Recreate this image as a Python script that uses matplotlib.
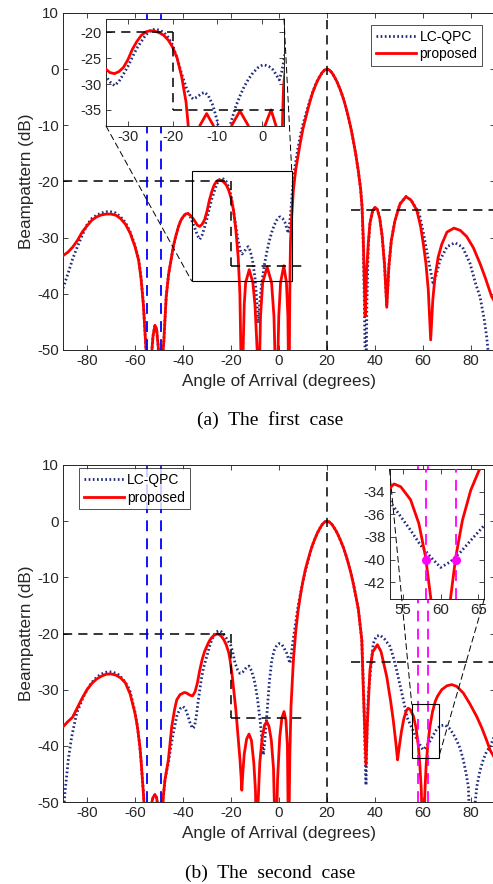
import matplotlib
matplotlib.use("Agg")
import matplotlib.pyplot as plt
from matplotlib.patches import Rectangle, ConnectionPatch

plt.rcParams["font.family"] = ["Liberation Sans", "DejaVu Sans"]
plt.rcParams["axes.unicode_minus"] = False

# ---- data ----
# (a) first case
a_red_x = [-90, -88, -86, -84, -82, -80, -78, -76, -74, -72, -70, -68, -66, -64, -62, -60,
           -58.5, -57.5, -56.5, -55.8, -55, -54.2, -53.3, -52.5, -51.7, -51, -50.3, -49.5,
           -48.7, -48, -47, -46, -45, -44, -43, -42, -41, -40, -39, -38, -37, -36, -35,
           -34, -33, -32, -31, -30, -29, -28, -27, -26, -25, -24, -23, -22, -21, -20, -19,
           -18, -17, -16.3, -15.5, -14.5, -13.9, -12.4, -10.9, -10, -9.1, -8.6, -7.7, -6.8,
           -4.95, -3.1, -2.1, -1.0, -0.1, 0.65, 2.0, 3.1, 3.7, 4.2, 4.4, 4.6, 4.8, 5.3, 6,
           7, 8, 9, 10, 11, 12, 13, 14, 15, 16, 17, 18, 19, 20, 21, 22, 23, 24, 25, 26, 27,
           28, 29, 30, 31, 32, 33, 34, 34.6, 35.1, 35.5, 35.9, 36.5, 37.2, 37.9, 39, 40, 41,
           42, 43, 44, 44.9, 45.8, 46.8, 48.3, 50.4, 52.9, 55, 57.4, 59, 60.1, 61.2, 62.2,
           63.2, 64.1, 65, 66.3, 67.8, 70, 72.9, 75.5, 78.2, 81, 83.75, 86, 88.6, 90]
a_red_y = [-33.2, -32.6, -31.7, -30.5, -29.0, -27.9, -26.9, -26.3, -25.95, -25.8, -25.8, -26.0,
           -26.6, -27.6, -29.2, -31.6, -34.0, -37.2, -42.0, -47.0, -53, -58, -52, -47.5,
           -45.6, -46.3, -49.5, -58, -52, -48.5, -40.5, -36.5, -34.0, -31.5, -29.7, -28.2,
           -27.0, -26.3, -25.8, -25.7, -26.0, -26.5, -27.1, -27.8, -28.0, -27.6, -26.8,
           -25.3, -23.3, -21.8, -20.6, -19.95, -19.7, -19.8, -20.1, -20.6, -21.5, -22.9,
           -25.0, -28.5, -33.5, -40, -60, -42, -38, -35.7, -38, -42, -50, -62, -44, -38,
           -35.2, -38, -44, -62, -44, -38, -35.0, -38, -44, -62, -45, -36, -30.5, -26,
           -21.5, -17.8, -15.3, -12.8, -10.6, -8.9, -7.2, -5.6, -4.2, -3.1, -2.1, -1.3,
           -0.6, -0.15, 0, -0.15, -0.6, -1.3, -2.1, -3.1, -4.2, -5.5, -7.0, -8.7, -10.6,
           -12.8, -15.2, -18.0, -21.3, -24.5, -30, -37, -44, -36, -31, -27.4, -25.2, -24.6,
           -25.0, -26.6, -29.8, -35, -42.4, -35, -30.5, -27, -24, -22.7, -23.3, -25.1, -28,
           -31, -34.5, -39.3, -48.2, -41, -37, -33.5, -31.2, -29.0, -28.3, -28.7, -29.8,
           -31.8, -34.6, -37.2, -40.5, -41.5]

a_blue_x = [-90, -88, -86, -84, -82, -80, -78, -76, -74, -72, -70, -68, -66, -64, -62, -60,
            -58.5, -57.5, -56.5, -55.8, -55, -54.2, -53.3, -52.5, -51.7, -51, -50.3, -49.5,
            -48.7, -48, -47, -46, -45, -44, -43, -42, -41, -40, -39, -38, -37, -36, -35,
            -34, -33, -32, -31, -30, -29, -28, -27, -26, -25, -24, -23, -22, -21, -20, -19,
            -18, -17, -16, -15.4, -14.5, -13.5, -12.8, -12, -11, -10, -9.3, -8.6, -7.9,
            -7.2, -6, -5, -4, -3, -2, -1, 0, 0.5, 1.5, 2.5, 3.2, 3.85, 4.4, 4.9, 5.5, 6.5,
            8, 9, 10, 11, 12, 13, 14, 15, 16, 17, 18, 19, 20, 21, 22, 23, 24, 25, 26, 27,
            28, 29, 30, 31, 32, 33, 34, 34.6, 35.1, 35.5, 35.9, 36.2, 36.6, 37.2, 37.9, 39,
            40, 41, 42, 43, 44, 44.9, 45.8, 46.8, 48.3, 50.4, 52.9, 55, 57.4, 58.75, 60,
            61.5, 63, 64.3, 65.5, 67.1, 70, 73.3, 76.5, 79.6, 82, 83.75, 85.5, 86.5, 87.6,
            88.5, 89.3, 90]
a_blue_y = [-39.0, -36.5, -33.8, -31.6, -29.6, -27.7, -26.6, -26.0, -25.6, -25.4, -25.4,
            -25.6, -26.3, -27.3, -29.0, -31.4, -33.8, -37.0, -41.8, -47.0, -53, -58, -52,
            -47.5, -45.6, -46.3, -49.5, -58, -52, -48.5, -40.5, -36.5, -34.0, -31.5, -29.7,
            -28.2, -27.0, -26.3, -25.8, -25.7, -26.3, -27.3, -28.4, -29.6, -30.3, -29.5,
            -28.1, -26.6, -24.8, -23.1, -21.8, -20.5, -19.8, -19.4, -19.6, -20.0, -21.0,
            -22.5, -25.0, -28.0, -30.6, -32.4, -32.9, -32.5, -31.8, -31.6, -32.3, -34.1,
            -37.2, -41, -45.2, -41, -38.1, -34.6, -32.4, -30.5, -29.0, -27.8, -26.9, -26.4,
            -26.3, -26.6, -27.3, -28.3, -29.2, -27.6, -25.4, -22, -17.8, -13.8, -11.6, -9.8,
            -8.3, -6.8, -5.4, -4.1, -3.0, -2.0, -1.2, -0.6, -0.15, 0, -0.15, -0.6, -1.3,
            -2.1, -3.1, -4.2, -5.5, -7.0, -8.7, -10.6, -12.8, -15.2, -18.0, -21.3, -24.5,
            -31, -40, -52, -60, -42, -31.5, -27.6, -25.3, -24.6, -25.0, -26.6, -29.8, -35,
            -42, -35, -30.5, -27, -24, -22.7, -23.3, -25.0, -26.3, -28.8, -32.2, -35.6,
            -38.4, -36.6, -34.0, -31.6, -30.9, -31.7, -34.6, -38.3, -40.5, -44.5, -47.6,
            -52, -60, -62, -58]

# (b) second case
b_red_x = [-90, -88, -86, -84, -82, -80, -78, -76, -74, -72, -70, -68, -66, -64, -62, -60,
           -59, -58, -57.5, -56.5, -55.8, -55.2, -54.5, -53.5, -52.5, -51.7, -51, -50.3,
           -49.6, -48.9, -48.2, -47.5, -46.1, -44.7, -43.5, -42.6, -41.25, -39.5, -38.5,
           -37, -36, -35, -34, -33, -32, -31, -30, -29, -28, -27, -26, -25, -24, -23, -22,
           -21, -20.4, -19.5, -19, -18, -17.4, -16.25, -15.8, -15.5, -15.1, -14.5, -13.5,
           -12.5, -11.5, -10.5, -9.8, -9.3, -8.7, -8, -7, -6, -5.1, -4.2, -3.2, -2.3, -1.4,
           -0.6, 0.3, 1.2, 2.1, 2.9, 3.5, 4.0, 4.5, 5, 6, 7, 8, 9, 10, 11, 12, 13, 14, 15,
           16, 17, 18, 19, 20, 21, 22, 23, 24, 25, 26, 27, 28, 29, 30, 31, 32, 33.1, 34.5,
           35.1, 35.7, 36.25, 36.8, 37.9, 39, 41, 42.5, 44.9, 46.5, 47.6, 48.7, 49.4, 50,
           51, 52, 53, 53.8, 54.7, 56, 57.1, 58, 58.7, 59.3, 60.1, 60.8, 61.3, 62.0, 62.9,
           64.0, 65.1, 66, 67.8, 70, 72, 74, 76.8, 79.5, 82.4, 84.5, 86.5, 88, 90]
b_red_y = [-36.6, -35.7, -34.9, -33.2, -31.5, -30.0, -28.9, -28.1, -27.6, -27.25, -27.2,
           -27.4, -27.9, -28.8, -30.8, -34.2, -36.6, -40, -42.5, -48.4, -54, -62, -56, -51,
           -49.2, -48.7, -49.2, -51.5, -60, -54, -49, -46, -42.5, -36.6, -33.5, -31.8,
           -30.9, -30.5, -30.6, -31.0, -31.1, -30.4, -28.8, -26.5, -24.6, -23.2, -22.2,
           -21.3, -20.7, -20.3, -20.1, -20.15, -20.5, -21.1, -22.0, -23.3, -24.7, -27.5,
           -29.5, -33.5, -36.6, -42.5, -45.5, -47.9, -45, -41.5, -38.8, -37.9, -39, -43,
           -48, -60, -50, -43, -38.5, -36.3, -35.7, -36.5, -39, -44, -60, -46, -38.5, -35,
           -33.9, -35.5, -40, -60, -42, -33, -24.7, -19.5, -15.8, -13.0, -10.6, -8.6, -7.0,
           -5.5, -4.2, -3.1, -2.1, -1.3, -0.6, -0.15, 0, -0.15, -0.55, -1.2, -1.9, -2.8,
           -3.8, -4.9, -6.2, -7.7, -9.3, -11.2, -13.3, -15.8, -21.2, -29.5, -37, -43.4,
           -36, -26.5, -23.3, -22.0, -23.2, -27.7, -32, -35.4, -39.5, -42.5, -40.5, -37.5,
           -35.2, -33.8, -33.3, -33.55, -34.7, -36.8, -39.8, -43.5, -48, -62, -48, -43.5,
           -39.8, -36.5, -33.85, -32.1, -31.2, -30.0, -29.3, -29.1, -29.4, -30.6, -32.5,
           -34.8, -36.8, -39, -40.8, -42.3]

b_blue_x = [-90, -89.2, -87.8, -86.4, -84.3, -81.5, -79, -77, -75, -73, -71, -69, -67, -65,
            -63, -62, -60, -59, -58, -57.5, -56.5, -55.8, -55.2, -54.5, -53.5, -52.5, -51.7,
            -51, -50.3, -49.6, -48.9, -48.2, -47.5, -46, -45, -44, -42.5, -41, -40, -39, -38,
            -37, -36, -35.2, -34.4, -33.6, -32.5, -31.5, -30.1, -29, -28, -27, -26, -25, -24,
            -23, -22, -21, -20, -19.3, -18.3, -17.2, -16.25, -15, -13.5, -12.5, -11.5, -10.5,
            -10, -9, -7.9, -7, -6.5, -6, -4.9, -4, -3, -2, -1, 0, 1.1, 2, 3.2, 4.0, 4.6, 5.2,
            6, 6.7, 8, 9.5, 11, 12, 13, 14, 15, 16, 17, 18, 19, 20, 21, 22, 23, 24, 25, 26,
            27, 28, 29, 30, 31, 32, 33.1, 34.5, 35.3, 35.9, 36.25, 36.7, 37.2, 37.9, 38.6,
            39.3, 40.5, 42.1, 44, 46.25, 47.5, 49, 50.5, 51.8, 53.4, 54.7, 56, 57.3, 58.7,
            60, 61.3, 62.7, 64, 65.75, 67.5, 69.2, 71, 72.5, 74, 75.5, 76.8, 78, 78.9, 79.3,
            80.3, 81.3, 82.4, 83.7, 85.1, 86.5, 87.9, 89, 90]
b_blue_y = [-53, -48.4, -42.5, -38.4, -34.2, -31.25, -29.3, -28.2, -27.5, -27.0, -26.8,
            -26.9, -27.3, -28.1, -29.4, -30.4, -34.0, -36.5, -40, -42.5, -48.4, -54, -62,
            -56, -51, -49.2, -48.7, -49.2, -51.5, -60, -54, -49, -46, -42.8, -40, -37.7,
            -34.5, -33.3, -33.0, -33.4, -34.6, -36.0, -36.9, -36.6, -34.5, -31.8, -28.5,
            -26.2, -24.1, -22.4, -21.1, -20.2, -19.7, -19.5, -19.7, -20.2, -20.8, -21.5,
            -22.2, -23.3, -25.3, -26.5, -27.1, -26.8, -26.0, -25.8, -26.6, -28.0, -28.9,
            -31.5, -35.4, -39.5, -41.6, -39.5, -33.6, -28.5, -24.7, -23.0, -22.2, -21.8,
            -21.9, -22.5, -23.5, -24.6, -25.3, -23.5, -20.8, -18.8, -15.0, -11.7, -8.8,
            -7.2, -5.6, -4.2, -3.1, -2.1, -1.3, -0.6, -0.15, 0, -0.15, -0.55, -1.2, -1.9,
            -2.8, -3.8, -4.9, -6.2, -7.7, -9.3, -11.2, -13.3, -15.8, -21.2, -31, -42, -47,
            -37, -31, -27.7, -24.5, -21.75, -20.5, -20.3, -21.0, -22.3, -24.0, -26.5,
            -29.3, -31.8, -35.0, -36.2, -37.4, -38.7, -39.8, -40.7, -40.2, -39.3, -38.3,
            -37.0, -36.4, -36.3, -36.9, -37.8, -39.0, -40.5, -42.5, -45, -47.3, -52, -62,
            -52, -47.3, -44.5, -42.5, -41, -40.2, -39, -38]

# constraint masks (x-range, level) and marked angles
mask_x = [[-90, -20], [-20, -20], [-20, 10], [30, 90]]
mask_y = [[-20, -20], [-20, -35], [-35, -35], [-25, -25]]
target_angle = 20
jammer_angles = [-55, -49]
b_marks_x = [58, 62]
b_marks_y = [-40, -40]

labels = ["LC-QPC", "proposed"]

W, H = 493, 884
fig = plt.figure(figsize=(W / 100, H / 100), dpi=100)


def add_px_axes(l, t, r, b):
    return fig.add_axes([l / W, 1 - b / H, (r - l) / W, (b - t) / H])


GRAY = "#262626"
BLUE_DOT = "#1f2a7a"
TICKFS = 10.8


def style(ax, fs=TICKFS):
    ax.tick_params(direction="in", top=True, right=True, length=3.5, width=0.6,
                   labelsize=fs, colors=GRAY, pad=3)
    for s in ax.spines.values():
        s.set_color(GRAY)
        s.set_linewidth(0.7)


def draw_curves(ax, bx, by, rx, ry, marks=False):
    ax.plot(bx, by, ls=(0, (0.6, 0.9)), color=BLUE_DOT, lw=2.0, zorder=2,
            dash_capstyle="butt", label=labels[0])
    ax.plot(rx, ry, color="red", lw=2.0, zorder=3, label=labels[1])
    for xs, ys in zip(mask_x, mask_y):
        ax.plot(xs, ys, color="black", lw=1.1, ls=(0, (6, 4)), zorder=4)
    ax.axvline(target_angle, color="black", lw=1.1, ls=(0, (6, 4)), zorder=4)
    for j in jammer_angles:
        ax.axvline(j, color="blue", lw=1.3, ls=(0, (6, 4)), zorder=4)
    if marks:
        for m in b_marks_x:
            ax.axvline(m, color="magenta", lw=1.3, ls=(0, (6, 4)), zorder=4)


def main_axes(t, b, bx, by, rx, ry, marks=False):
    ax = add_px_axes(63, t, 495, b)
    draw_curves(ax, bx, by, rx, ry, marks)
    ax.set_xlim(-90, 90)
    ax.set_ylim(-50, 10)
    ax.set_xticks(range(-80, 81, 20))
    ax.set_yticks(range(-50, 11, 10))
    style(ax)
    ax.set_xlabel("Angle of Arrival (degrees)", fontsize=12.3, color=GRAY, labelpad=4)
    ax.set_ylabel("Beampattern (dB)", fontsize=12.3, color=GRAY, labelpad=2)
    return ax


# ---- (a) ----
ax1 = main_axes(13, 350, a_blue_x, a_blue_y, a_red_x, a_red_y)
ax1.add_patch(Rectangle((-36.4, -37.7), 41.7, 19.6, fill=False, ec="black", lw=0.8, zorder=5))
leg = ax1.legend(loc="upper right", bbox_to_anchor=(482.3 / W, 1 - 25 / H),
                 bbox_transform=fig.transFigure, fontsize=10, frameon=True, fancybox=False,
                 edgecolor="black", borderpad=0.35, labelspacing=0.25, handlelength=2.9,
                 handletextpad=0.25, borderaxespad=0)
leg.get_frame().set_linewidth(0.6)

in1 = add_px_axes(106, 18.7, 284, 126)
draw_curves(in1, a_blue_x, a_blue_y, a_red_x, a_red_y)
in1.set_xlim(-34.9, 4.9)
in1.set_ylim(-38.1, -17.4)
in1.set_xticks([-30, -20, -10, 0])
in1.set_yticks([-35, -30, -25, -20])
style(in1, 10.5)
in1.set_zorder(6)

for xa, xb in [((0, 0), (-36.4, -37.7)), ((1, 1), (5.3, -18.1))]:
    cp = ConnectionPatch(xyA=xa, coordsA=in1.transAxes, xyB=xb, coordsB=ax1.transData,
                         color="black", lw=0.7, ls=(0, (6, 4)), zorder=10)
    fig.add_artist(cp)

fig.text(270 / W, 1 - 420 / H, "(a)  The  first  case", fontsize=14,
         family=["Liberation Serif", "DejaVu Serif"], ha="center", va="center")

# ---- (b) ----
ax2 = main_axes(465, 802, b_blue_x, b_blue_y, b_red_x, b_red_y, marks=True)
ax2.add_patch(Rectangle((55.3, -42.1), 11.2, 9.5, fill=False, ec="black", lw=0.8, zorder=5))
leg2 = ax2.legend(loc="upper left", bbox_to_anchor=(78.7 / W, 1 - 468.3 / H),
                  bbox_transform=fig.transFigure, fontsize=10, frameon=True, fancybox=False,
                  edgecolor="black", borderpad=0.35, labelspacing=0.25, handlelength=2.9,
                  handletextpad=0.25, borderaxespad=0)
leg2.get_frame().set_linewidth(0.6)

in2 = add_px_axes(389.5, 469.3, 484.3, 599)
draw_curves(in2, b_blue_x, b_blue_y, b_red_x, b_red_y, marks=True)
in2.plot(b_marks_x, b_marks_y, "o", color="magenta", ms=5.5, zorder=6)
in2.set_xlim(53.2, 65.8)
in2.set_ylim(-43.5, -32)
in2.set_xticks([55, 60, 65])
in2.set_yticks([-42, -40, -38, -36, -34])
style(in2, 10.8)
in2.set_zorder(6)

for xa, xb in [((0, 1), (55.3, -32.6)), ((1, 0), (66.5, -42.1))]:
    cp = ConnectionPatch(xyA=xa, coordsA=in2.transAxes, xyB=xb, coordsB=ax2.transData,
                         color="black", lw=0.7, ls=(0, (6, 4)), zorder=10)
    fig.add_artist(cp)

fig.text(270 / W, 1 - 873 / H, "(b)  The  second  case", fontsize=14,
         family=["Liberation Serif", "DejaVu Serif"], ha="center", va="center")

fig.savefig("out.png", dpi=100)
